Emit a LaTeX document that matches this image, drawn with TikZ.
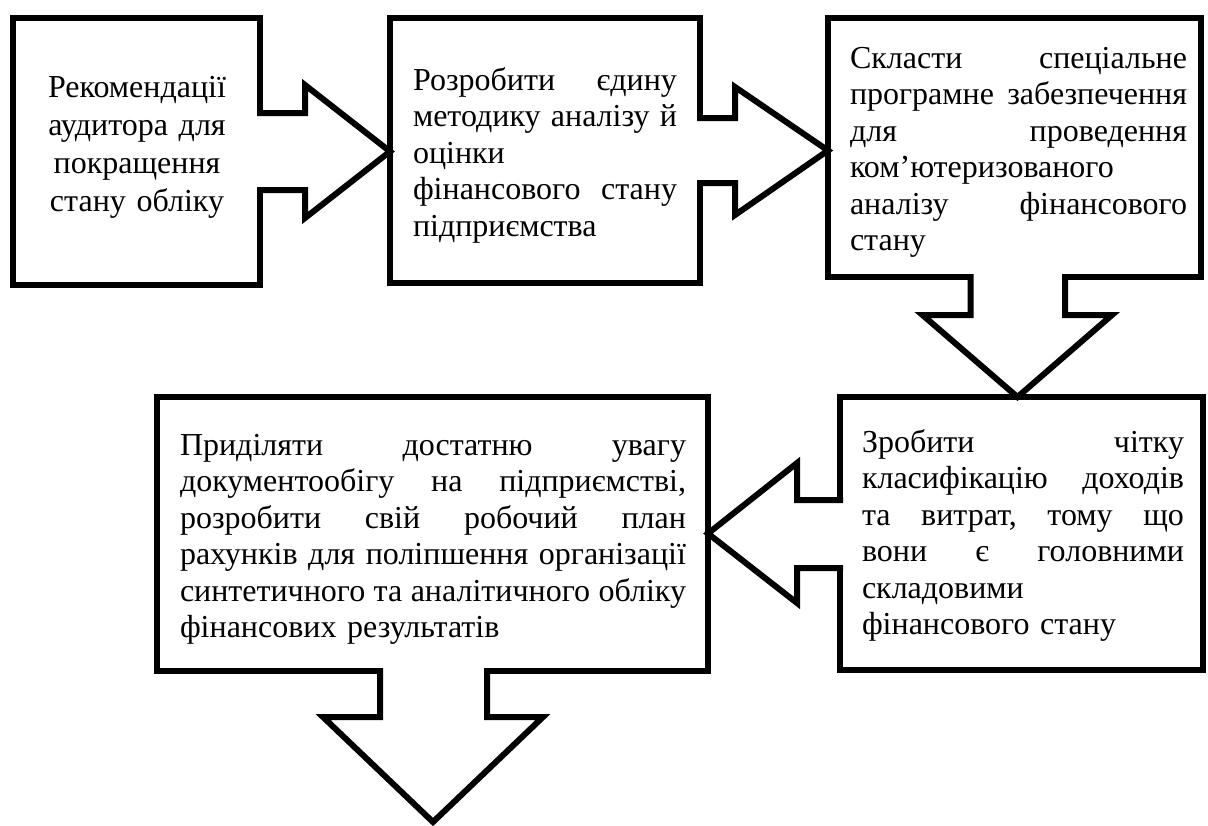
\documentclass[tikz,border=0pt]{standalone}
\usepackage{fontspec}
\setmainfont{Liberation Serif}
\usetikzlibrary{calc}
% one justified line of a paragraph: the words are spread over the column width \jw
\newlength\jw
\newcommand\jline[1]{\leavevmode\hbox to \jw{#1}}
\begin{document}
\begin{tikzpicture}[x=1pt,y=-1pt,
  box/.style={draw, rectangle, line width=6pt, line join=miter, inner sep=0pt, outer sep=0pt},
  blockarrow/.style={draw, fill=white, line width=6pt, line join=miter},
  txt/.style={inner sep=0pt, outer sep=0pt, align=left, anchor=base west,
              font=\fontsize{32}{36.5}\selectfont},
  column/.style={text width=#1, execute at begin node={\setlength{\jw}{#1}}}]
\useasboundingbox (0,0) rectangle (1208,825);

% frames of the five steps
\node[box, minimum width=247pt, minimum height=267pt] (b1) at (136.5,151.5) {};
\node[box, minimum width=310pt, minimum height=265pt] (b2) at (545,150.5) {};
\node[box, minimum width=373pt, minimum height=259pt] (b3) at (1014.5,147.5) {};
\node[box, minimum width=363pt, minimum height=273pt] (b4) at (1021.5,533.5) {};
\node[box, minimum width=551pt, minimum height=274pt] (b5) at (432.5,534) {};

% axis of the first vertical arrow and the free end of the last one
\coordinate (a3) at ($(b3.south)+(3,0)$);
\coordinate (end) at ($(b5.south)+(0.5,151)$);

% block arrows growing out of each frame
\draw[blockarrow] ($(b1.east)+(-3,-38.5)$) -- ($(b1.east)+(45,-38.5)$) -- ($(b1.east)+(45,-66.5)$)
  -- (b2.west |- b1.east) -- ($(b1.east)+(45,66.5)$) -- ($(b1.east)+(45,38.5)$) -- ($(b1.east)+(-3,38.5)$);
\draw[blockarrow] ($(b2.east)+(-3,-32.5)$) -- ($(b2.east)+(35,-32.5)$) -- ($(b2.east)+(35,-63.5)$)
  -- (b3.west |- b2.east) -- ($(b2.east)+(35,64.5)$) -- ($(b2.east)+(35,32.5)$) -- ($(b2.east)+(-3,32.5)$);
\draw[blockarrow] ($(a3)+(-47,-3)$) -- ($(a3)+(-47,38)$) -- ($(a3)+(-95,38)$)
  -- (a3 |- b4.north) -- ($(a3)+(94.5,38)$) -- ($(a3)+(47.5,38)$) -- ($(a3)+(47.5,-3)$);
\draw[blockarrow] ($(b4.west)+(3,-33.5)$) -- ($(b4.west)+(-43,-33.5)$) -- ($(b4.west)+(-43,-70.5)$)
  -- (b5.east |- b4.west) -- ($(b4.west)+(-43,69.5)$) -- ($(b4.west)+(-43,34.5)$) -- ($(b4.west)+(3,34.5)$);
\draw[blockarrow] ($(b5.south)+(-52.5,-3)$) -- ($(b5.south)+(-52.5,46)$) -- ($(b5.south)+(-109.5,46)$)
  -- (end) -- ($(b5.south)+(110.5,46)$) -- ($(b5.south)+(54.5,46)$) -- ($(b5.south)+(54.5,-3)$);

% texts of the steps
\node[txt, text width=230pt, align=center, anchor=base, font=\fontsize{32}{38}\selectfont] (t1) at (137,97)
  {Рекомендації\\аудитора для\\покращення\\стану обліку};
\node[txt, column=264pt] (t2) at (413,90)
  {\jline{Розробити\hfill єдину}\\\jline{методику\hfill аналізу\hfill й}\\оцінки\\
   \jline{фінансового\hfill стану}\\підприємства};
\node[txt, column=337pt] (t3) at (850,68)
  {\jline{Скласти\hfill спеціальне}\\\jline{програмне\hfill забезпечення}\\\jline{для\hfill проведення}\\
   ком’ютеризованого\\\jline{аналізу\hfill фінансового}\\стану};
\node[txt, column=322pt] (t4) at (862,452)
  {\jline{Зробити\hfill чітку}\\\jline{класифікацію\hfill доходів}\\\jline{та\hfill витрат,\hfill тому\hfill що}\\
   \jline{вони\hfill є\hfill головними}\\складовими\\фінансового стану};
\node[txt, column=506pt] (t5) at (180,455)
  {\jline{Приділяти\hfill достатню\hfill увагу}\\\jline{документообігу\hfill на\hfill підприємстві,}\\
   \jline{розробити\hfill свій\hfill робочий\hfill план}\\\jline{рахунків\hfill для\hfill поліпшення\hfill організації}\\
   \jline{синтетичного\hfill та\hfill аналітичного\hfill обліку}\\фінансових результатів};
\end{tikzpicture}
\end{document}
